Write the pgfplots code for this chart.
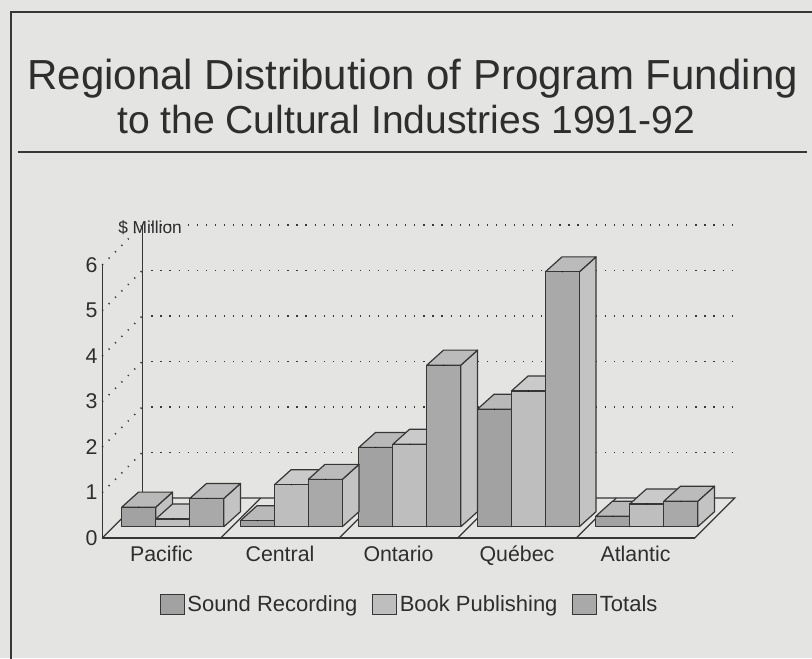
\documentclass[border=0pt]{standalone}
\usepackage{fontspec}
\setmainfont{Liberation Sans}
\usepackage{pgfplots}
\pgfplotsset{compat=1.18}
\usepackage{pgfplotstable}

\definecolor{bg}{HTML}{E4E4E2}
\definecolor{edge}{HTML}{363636}
\definecolor{txt}{HTML}{2E2E2E}
\definecolor{srF}{HTML}{A2A2A2}
\definecolor{srT}{HTML}{B9B9B9}
\definecolor{srS}{HTML}{C2C2C2}
\definecolor{bpF}{HTML}{BEBEBE}
\definecolor{bpT}{HTML}{CACACA}
\definecolor{bpS}{HTML}{C6C6C6}
\definecolor{ttF}{HTML}{A9A9A9}
\definecolor{ttT}{HTML}{BBBBBB}
\definecolor{ttS}{HTML}{C3C3C3}

\pgfplotstableread{
c v
0 0.43
1 0.13
2 1.74
3 2.58
4 0.23
}\sr
\pgfplotstableread{
c v
0 0.17
1 0.92
2 1.81
3 2.98
4 0.50
}\bp
\pgfplotstableread{
c v
0 0.62
1 1.04
2 3.55
3 5.60
4 0.56
}\tot

\tikzset{dotgrid/.style={draw=gray!45!black, line width=1.3pt, dash pattern=on 0.9pt off 5.9pt}}
\pgfplotsset{
  cuboid/.style n args={3}{
    only marks, scatter, mark=*, mark size=0.1pt,
    mark options={draw=none, fill=none},
    visualization depends on={\thisrow{v} \as \hv},
    scatter/@pre marker code/.code={%
      \pgfmathsetmacro\hh{\hv*34.125}%
      \pgfmathsetmacro\hb{11.25-\hh}%
      \filldraw[fill=#3, draw=edge, line width=0.9pt, line join=round]
        (12.75pt,0pt) -- (25.25pt,11.25pt) -- (25.25pt,\hb pt) -- (12.75pt,-\hh pt) -- cycle;
      \filldraw[fill=#2, draw=edge, line width=0.9pt, line join=round]
        (-12.75pt,0pt) -- (12.75pt,0pt) -- (25.25pt,11.25pt) -- (-0.25pt,11.25pt) -- cycle;
      \filldraw[fill=#1, draw=edge, line width=0.9pt, line join=round]
        (-12.75pt,-\hh pt) rectangle (12.75pt,0pt);
    },
    scatter/@post marker code/.code={},
  },
}

\begin{document}
\begin{tikzpicture}
\path[use as bounding box, fill=bg] (0,0) rectangle (609pt,493.5pt);
\draw[edge, line width=1.5pt] (8pt,-3pt) -- (8pt,484.7pt) -- (615pt,484.7pt);
\node[anchor=base, font=\fontsize{31.5}{36}\selectfont, text=txt] at (309.5pt,426.5pt) {Regional Distribution of Program Funding};
\node[anchor=base, font=\fontsize{29.3}{36}\selectfont, text=txt] at (304.5pt,393.5pt) {to the Cultural Industries 1991-92};
\draw[edge, line width=1.4pt] (13.7pt,379.5pt) -- (605pt,379.5pt);

% back wall
\begin{axis}[at={(106.6875pt,120pt)}, anchor=south west,
  x=88.875pt, y=34.125pt, xmin=-0.5, xmax=4.5, ymin=0, ymax=6,
  axis x line=none, axis y line=left,
  axis line style={-, draw=edge, line width=1pt},
  xtick=\empty, ytick={1,2,3,4,5,6}, yticklabels={},
  major tick length=0pt, ymajorgrids, major grid style={dotgrid}]
\end{axis}

% front plane, floor and ticks
\begin{axis}[at={(76.6875pt,90pt)}, anchor=south west,
  x=88.875pt, y=34.125pt, xmin=-0.5, xmax=4.5, ymin=0, ymax=6,
  axis x line=bottom, axis y line=left, clip=false,
  axis line style={-, draw=edge, line width=1pt},
  xtick={0,1,2,3,4}, xticklabels={Pacific,Central,Ontario,Québec,Atlantic},
  ytick={0,1,2,3,4,5,6}, major tick length=0pt,
  tick label style={font=\fontsize{16}{19}\selectfont, text=txt},
  /pgf/number format/assume math mode=true,
  xticklabel style={yshift=-2.5pt},
  ylabel={\$ Million},
  ylabel style={rotate=-90, at={(rel axis cs:0,1)}, anchor=base west,
    xshift=8.5pt, yshift=24pt, font=\fontsize{13}{15}\selectfont, text=txt}]
\draw[edge, line width=1pt] (axis cs:-0.5,0) -- ++(30pt,30pt) -- ++(444.375pt,0pt) -- (axis cs:4.5,0);
\pgfplotsinvokeforeach{0.5,1.5,2.5,3.5}{\draw[edge, line width=1pt] (axis cs:#1,0) -- ++(30pt,30pt);}
\pgfplotsinvokeforeach{1,2,3,4,5,6}{\draw[dotgrid] (axis cs:-0.5,#1) -- ++(30pt,30pt);}
\end{axis}

% bars
\begin{axis}[at={(85.1875pt,98.5pt)}, anchor=south west,
  x=88.875pt, y=34.125pt, xmin=-0.5, xmax=4.5, ymin=0, ymax=6,
  hide axis, clip=false,
  legend columns=3,
  legend style={at={(0.5,-0.286)}, anchor=center, draw=none, fill=none,
    font=\fontsize{16.5}{19}\selectfont, text=txt,
    /tikz/every even column/.append style={column sep=9pt}},
  legend cell align=left]
\addplot[cuboid={srF}{srT}{srS},
  legend image code/.code={\filldraw[fill=srF, draw=edge, line width=0.8pt] (0pt,-7.5pt) rectangle (18pt,7.5pt);}]
  table[x expr=\thisrow{c}-0.287, y=v] {\sr};
\addplot[cuboid={bpF}{bpT}{bpS},
  legend image code/.code={\filldraw[fill=bpF, draw=edge, line width=0.8pt] (0pt,-7.5pt) rectangle (18pt,7.5pt);}]
  table[x expr=\thisrow{c}, y=v] {\bp};
\addplot[cuboid={ttF}{ttT}{ttS},
  legend image code/.code={\filldraw[fill=ttF, draw=edge, line width=0.8pt] (0pt,-7.5pt) rectangle (18pt,7.5pt);}]
  table[x expr=\thisrow{c}+0.287, y=v] {\tot};
\legend{Sound Recording, Book Publishing, Totals}
\end{axis}
\end{tikzpicture}
\end{document}
